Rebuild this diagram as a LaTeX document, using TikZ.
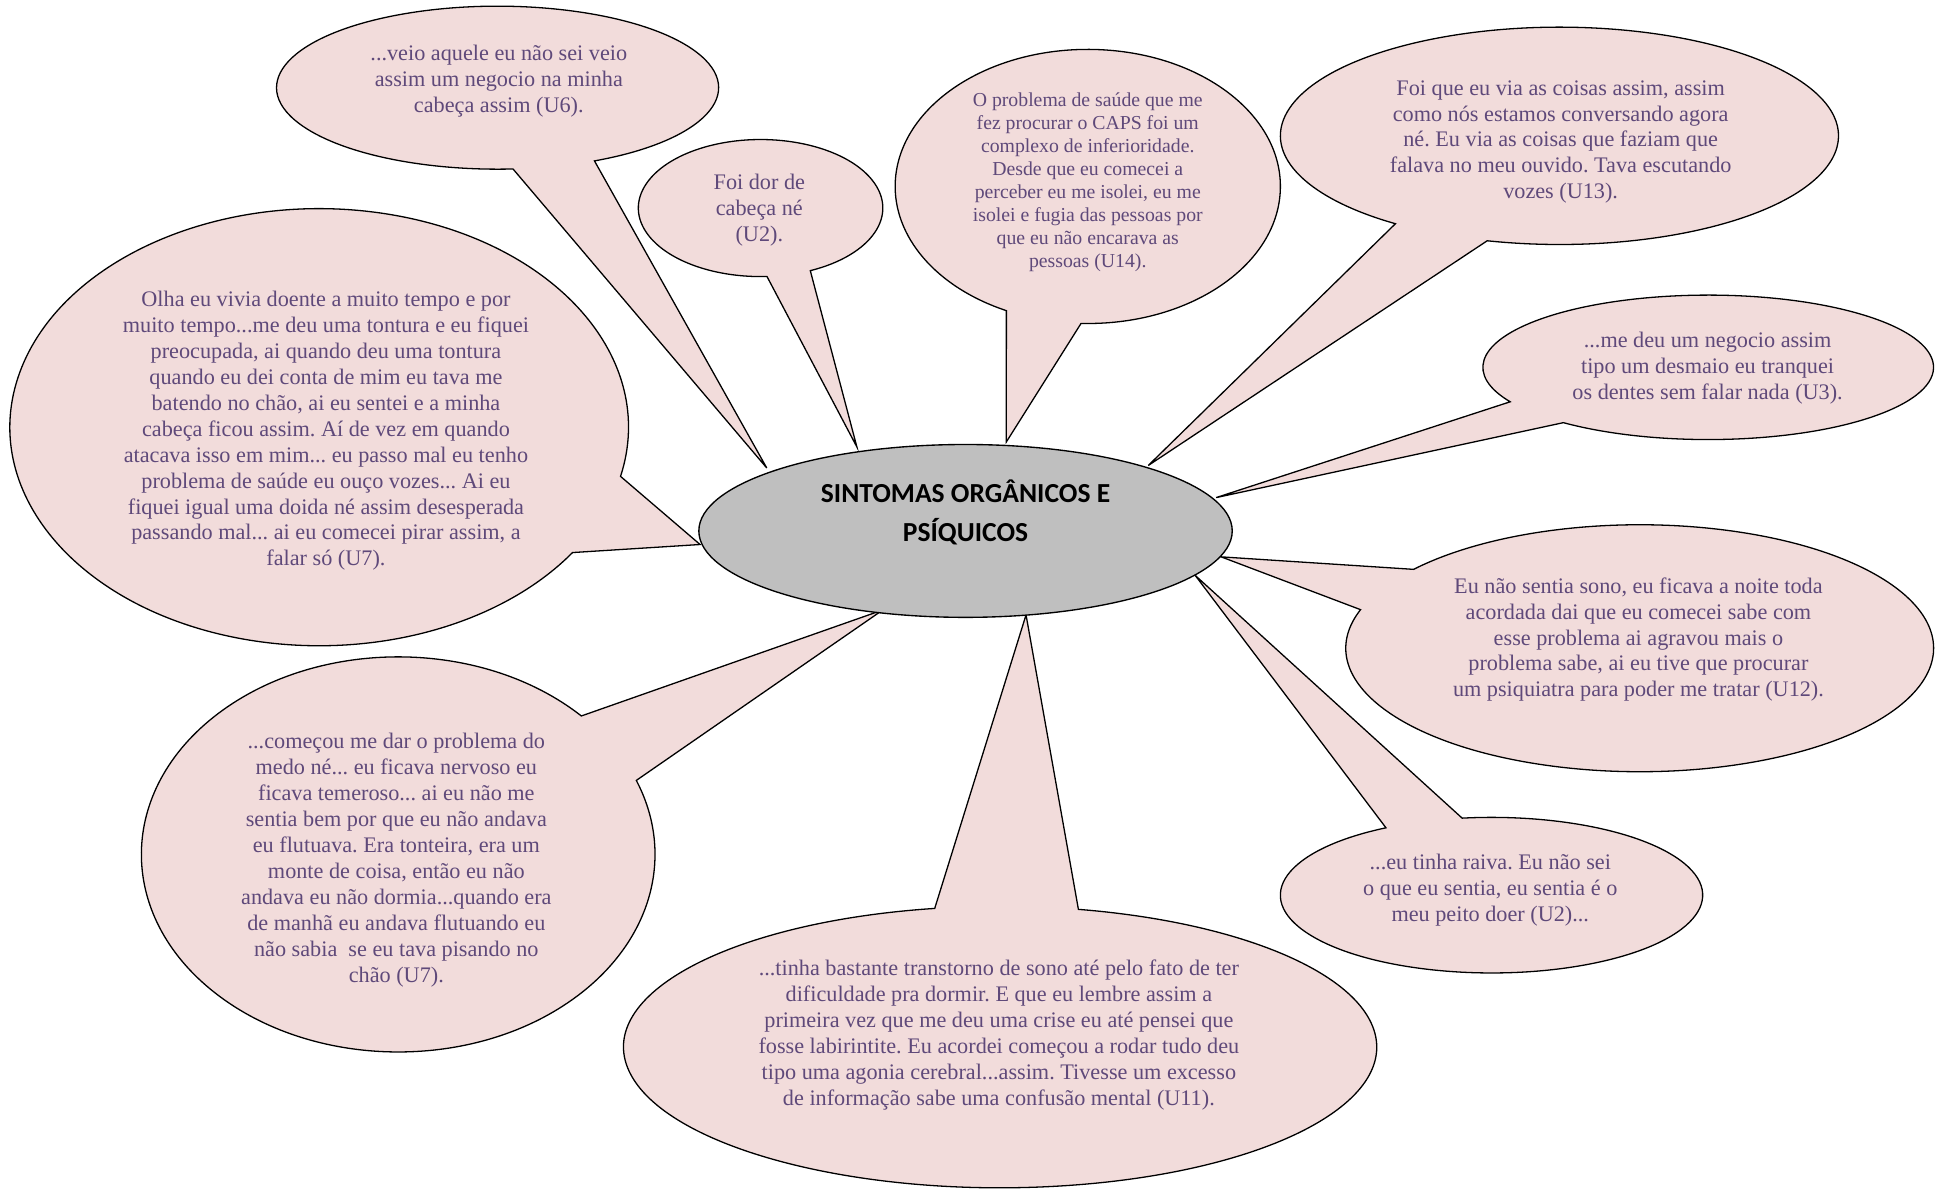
\documentclass[tikz,border=0pt]{standalone}
\usepackage{fontspec}
\setmainfont{Liberation Serif}
\newfontfamily\titlefont{Carlito}
\usetikzlibrary{shapes.geometric}
\frenchspacing

\definecolor{bubblefill}{HTML}{F2DCDB}
\definecolor{quotecolor}{HTML}{5F497A}
\definecolor{corefill}{HTML}{BFBFBF}

\tikzset{
  bubble/.style={fill=bubblefill, draw=black, line width=1.05pt},
  quote/.style={text=quotecolor, align=center, inner sep=0pt, anchor=center,
                font=\fontsize{18}{21}\selectfont},
  quotesmall/.style={quote, font=\fontsize{16}{18.7}\selectfont},
  core/.style={ellipse, fill=corefill, draw=black, line width=1.1pt,
               minimum width=432pt, minimum height=140pt, inner sep=0pt},
  coretitle/.style={align=center, inner sep=0pt,
                    font=\titlefont\bfseries\fontsize{22.3}{31}\selectfont},
}

% speech bubble: centre x, centre y, x radius, y radius,
% start and end angle of the opening for the tail, tail tip
\newcommand{\speechbubble}[7]{%
  \filldraw[bubble] (#1,#2) ++(#6:#3pt and #4pt)
    arc[start angle=#6, end angle={#5+360}, x radius=#3pt, y radius=#4pt]
    -- (#7) -- cycle;}

\begin{document}
\begin{tikzpicture}[x=1pt,y=1pt]
\useasboundingbox (0,0) rectangle (1568,-964);

% tail tips on the border of the central ellipse
\coordinate (tipU6)    at (621,-379);
\coordinate (tipDor)   at (694,-362);
\coordinate (tipU14)   at (815,-358);
\coordinate (tipU13)   at (930,-377);
\coordinate (tipU3)    at (985,-403);
\coordinate (tipU12)   at (989,-451);
\coordinate (tipRaiva) at (968,-466);
\coordinate (tipU11)   at (831,-498);
\coordinate (tipMedo)  at (715,-494);
\coordinate (tipOlha)  at (567,-441);

% bubbles
\speechbubble{403}{-71}{179}{66}{274}{296}{tipU6}
\speechbubble{616}{-168.5}{99}{55.5}{273}{294}{tipDor}
\speechbubble{881}{-151}{156}{111}{245}{268}{tipU14}
\speechbubble{1263}{-110}{226}{88}{234}{255}{tipU13}
\speechbubble{1383.5}{-297.5}{182.5}{58.5}{208.5}{230}{tipU3}
\speechbubble{1328}{-525}{238}{100}{140.3}{161.8}{tipU12}
\speechbubble{1208}{-725}{171}{63}{98}{120}{tipRaiva}
\speechbubble{810}{-848}{305}{114}{78}{100}{tipU11}
\speechbubble{322.5}{-692}{208}{160}{22}{44.5}{tipMedo}
\speechbubble{258.5}{-346}{250.5}{177}{325}{347}{tipOlha}

% central ellipse
\node[core] (centre) at (782,-430) {};
\node[coretitle] (centretitle) at (782,-415) {SINTOMAS ORGÂNICOS E\\PSÍQUICOS};

% quotations
\node[quote] (qU6) at (404,-66) {...veio aquele eu não sei veio\\assim um negocio na minha\\cabeça assim (U6).};
\node[quote] (qDor) at (615,-170) {Foi dor de\\cabeça né\\(U2).};
\node[quotesmall] (qU14) at (881,-147.5) {O problema de saúde que me\\fez procurar o CAPS foi um\\complexo de inferioridade.\\Desde que eu comecei a\\perceber eu me isolei, eu me\\isolei e fugia das pessoas por\\que eu não encarava as\\pessoas (U14).};
\node[quote] (qU13) at (1264,-115) {Foi que eu via as coisas assim, assim\\como nós estamos conversando agora\\né. Eu via as coisas que faziam que\\falava no meu ouvido. Tava escutando\\vozes (U13).};
\node[quote] (qU3) at (1383,-298) {...me deu um negocio assim\\tipo um desmaio eu tranquei\\os dentes sem falar nada (U3).};
\node[quote] (qU12) at (1327,-518) {Eu não sentia sono, eu ficava a noite toda\\acordada dai que eu comecei sabe com\\esse problema ai agravou mais o\\problema sabe, ai eu tive que procurar\\um psiquiatra para poder me tratar (U12).};
\node[quote] (qRaiva) at (1207,-721) {...eu tinha raiva. Eu não sei\\o que eu sentia, eu sentia é o\\meu peito doer (U2)...};
\node[quote] (qU11) at (809,-838.5) {...tinha bastante transtorno de sono até pelo fato de ter\\dificuldade pra dormir. E que eu lembre assim a\\primeira vez que me deu uma crise eu até pensei que\\fosse labirintite. Eu acordei começou a rodar tudo deu\\tipo uma agonia cerebral...assim. Tivesse um excesso\\de informação sabe uma confusão mental (U11).};
\node[quote] (qMedo) at (321,-696.5) {...começou me dar o problema do\\medo né... eu ficava nervoso eu\\ficava temeroso... ai eu não me\\sentia bem por que eu não andava\\eu flutuava. Era tonteira, era um\\monte de coisa, então eu não\\andava eu não dormia...quando era\\de manhã eu andava flutuando eu\\não sabia\ \ se eu tava pisando no\\chão (U7).};
\node[quote] (qOlha) at (264,-349) {Olha eu vivia doente a muito tempo e por\\muito tempo...me deu uma tontura e eu fiquei\\preocupada, ai quando deu uma tontura\\quando eu dei conta de mim eu tava me\\batendo no chão, ai eu sentei e a minha\\cabeça ficou assim. Aí de vez em quando\\atacava isso em mim... eu passo mal eu tenho\\problema de saúde eu ouço vozes... Ai eu\\fiquei igual uma doida né assim desesperada\\passando mal... ai eu comecei pirar assim, a\\falar só (U7).};
\end{tikzpicture}
\end{document}
